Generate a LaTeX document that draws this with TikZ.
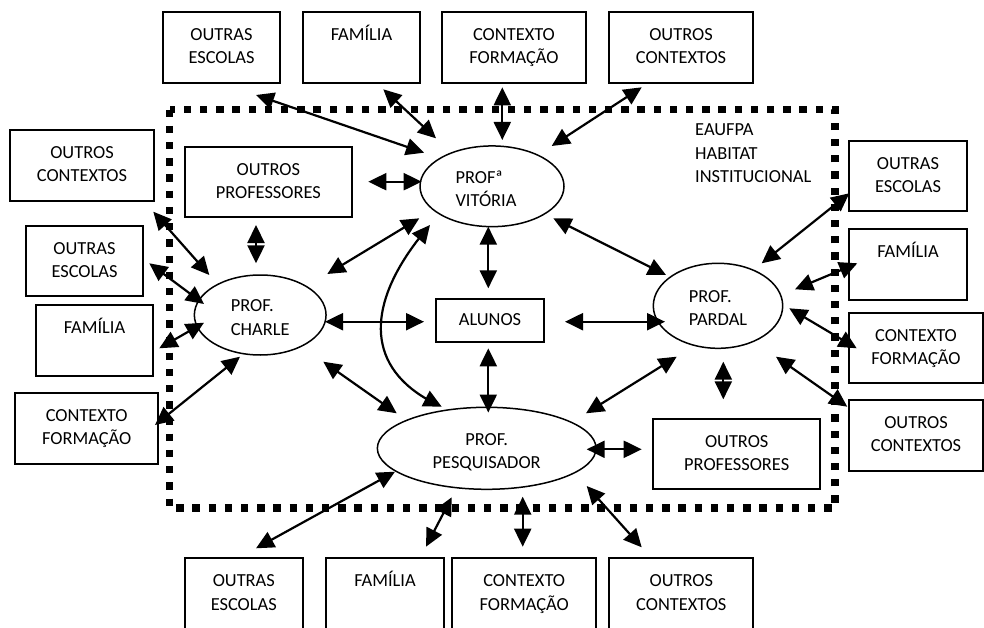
\documentclass[tikz,border=0pt]{standalone}
\usepackage{fontspec}
\setmainfont{Carlito}
\usetikzlibrary{shapes.geometric,arrows.meta,bending}

\newcommand\txtfont{\fontsize{18.4}{23.3}\selectfont}
% taller strut for the ellipse labels, which sit a little low
\newcommand\ellstrut{\rule[-3pt]{0pt}{23pt}}

\tikzset{
  box/.style={draw, line width=1.8pt, rectangle, align=center, inner sep=0pt, font=\txtfont},
  wbox/.style={box, minimum width=117pt, minimum height=71pt},
  xbox/.style={box, minimum width=144pt, minimum height=71pt},
  ell/.style={draw, ellipse, line width=1.5pt, align=left, inner sep=0pt, font=\txtfont},
  arr/.style={line width=2.2pt, {Triangle[length=18pt,width=17pt]}-{Triangle[length=18pt,width=17pt]}},
  habitat/.style={line width=7.3pt, dash pattern=on 7.3pt off 8.9pt},
}

\begin{document}
\begin{tikzpicture}[x=1pt,y=-1pt]
\useasboundingbox (0,0) rectangle (984,628);
\clip (0,0) rectangle (984,628);

% institutional habitat frame
\draw[habitat] (169.5,109.7) rectangle (835,508);
\node[font=\txtfont, align=left, anchor=west, inner sep=0pt] (habtxt) at (695,154.5)
  {EAUFPA\strut\\HABITAT\strut\\INSTITUCIONAL\strut};

% top row
\node[wbox] (t1) at (221.5,47.5) {OUTRAS\strut\\ESCOLAS\strut};
\node[wbox] (t2) at (361.5,47.5) {FAMÍLIA\strut\\\strut};
\node[xbox] (t3) at (514,47.5) {CONTEXTO\strut\\FORMAÇÃO\strut};
\node[xbox] (t4) at (681,47.5) {OUTROS\strut\\CONTEXTOS\strut};

% left column
\node[xbox] (l1) at (82,165.5) {OUTROS\strut\\CONTEXTOS\strut};
\node[wbox, minimum height=70pt] (l2) at (84.5,261) {OUTRAS\strut\\ESCOLAS\strut};
\node[wbox] (l3) at (94.5,340.5) {FAMÍLIA\strut\\\strut};
\node[box, minimum width=143pt, minimum height=71pt] (l4) at (86.7,428.2) {CONTEXTO\strut\\FORMAÇÃO\strut};

% right column
\node[box, minimum width=118pt, minimum height=70pt] (r1) at (908,176) {OUTRAS\strut\\ESCOLAS\strut};
\node[box, minimum width=118pt, minimum height=71pt] (r2) at (908,264.7) {FAMÍLIA\strut\\\strut};
\node[box, minimum width=134pt, minimum height=70pt] (r3) at (916,348.3) {CONTEXTO\strut\\FORMAÇÃO\strut};
\node[box, minimum width=134pt, minimum height=71pt] (r4) at (916,435.3) {OUTROS\strut\\CONTEXTOS\strut};

% bottom row
\node[box, minimum width=117.7pt, minimum height=71pt] (b1) at (243.8,593.8) {OUTRAS\strut\\ESCOLAS\strut};
\node[box, minimum width=118pt, minimum height=71pt] (b2) at (385,593.8) {FAMÍLIA\strut\\\strut};
\node[xbox] (b3) at (524.2,593.8) {CONTEXTO\strut\\FORMAÇÃO\strut};
\node[xbox] (b4) at (681.3,593.8) {OUTROS\strut\\CONTEXTOS\strut};

% inside the habitat
\node[box, minimum width=166.7pt, minimum height=70.6pt] (op1) at (268.3,182) {OUTROS\strut\\PROFESSORES\strut};
\node[box, minimum width=108pt, minimum height=43pt] (alunos) at (490,320.8) {ALUNOS\strut};
\node[box, minimum width=166.7pt, minimum height=70pt] (op2) at (736.7,454.3) {OUTROS\strut\\PROFESSORES\strut};

\node[ell, minimum width=144pt, minimum height=80.7pt] (vit) at (492,186.3) {PROFª\ellstrut\\VITÓRIA\ellstrut\hspace*{12pt}};
\node[ell, minimum width=131.7pt, minimum height=80pt] (charle) at (260.2,315) {PROF.\ellstrut\\CHARLE\ellstrut};
\node[ell, minimum width=129.4pt, minimum height=85pt] (pardal) at (718,305.8) {PROF.\ellstrut\\PARDAL\ellstrut};
\node[ell, align=center, minimum width=218.7pt, minimum height=82pt] (pesq) at (486.7,448.3) {PROF.\ellstrut\\PESQUISADOR\ellstrut};

% connector ends
\coordinate (t1v) at (256,95);      \coordinate (vt1) at (424,152.7);
\coordinate (t2v) at (383.3,89.3);  \coordinate (vt2) at (436,138.3);
\coordinate (t3v) at (502.3,87.3);  \coordinate (vt3) at (502.3,140);
\coordinate (t4v) at (641.7,87.3);  \coordinate (vt4) at (551.7,146);
\coordinate (op1v) at (368.3,181.7); \coordinate (vop1) at (421.7,181.7);
\coordinate (op1c) at (256,225);    \coordinate (cop1) at (256,263.3);
\coordinate (cv) at (327.3,274);    \coordinate (vc) at (419.3,218.3);
\coordinate (vp) at (430,225);      \coordinate (pv) at (441.7,406.7);
\coordinate (va) at (488.3,226.7);  \coordinate (av) at (488.3,288.3);
\coordinate (ca) at (325,321.7);    \coordinate (ac) at (424,321.7);
\coordinate (ap) at (488.3,348.3);  \coordinate (pa) at (488.3,412.5);
\coordinate (apar) at (565,321.7);  \coordinate (para) at (665,321.7);
\coordinate (vpar) at (553.3,218.3); \coordinate (parv) at (666,275);
\coordinate (cp) at (323.3,361.7);  \coordinate (pc) at (396.7,413.3);
\coordinate (parp) at (676.7,356.7); \coordinate (ppar) at (586,413.3);
\coordinate (parop) at (723.3,361.7); \coordinate (oppar) at (723.3,399.3);
\coordinate (pop) at (586.7,449.3); \coordinate (opp) at (641.7,449.3);
\coordinate (parr1) at (761.7,263.3); \coordinate (r1par) at (849.3,193.3);
\coordinate (parr2) at (795,289.3);   \coordinate (r2par) at (857.3,263.3);
\coordinate (parr3) at (789.3,308.3); \coordinate (r3par) at (856.7,348.3);
\coordinate (parr4) at (776,356.7);   \coordinate (r4par) at (847.3,406.7);
\coordinate (l1c) at (153.3,211.7); \coordinate (cl1) at (209.3,275);
\coordinate (l2c) at (149.3,263.3); \coordinate (cl2) at (204,304);
\coordinate (l3c) at (159.3,348.3); \coordinate (cl3) at (204,322.7);
\coordinate (l4c) at (155,425);     \coordinate (cl4) at (240,356.7);
\coordinate (pb1) at (395,471.7);   \coordinate (b1p) at (256,548.3);
\coordinate (pb2) at (451.7,497.3); \coordinate (b2p) at (426,546.7);
\coordinate (pb3) at (522.7,496.7); \coordinate (b3p) at (522.7,546.7);
\coordinate (pb4) at (586.7,486);   \coordinate (b4p) at (641.7,547.3);

% connectors
\draw[arr] (t1v) -- (vt1);
\draw[arr] (t2v) -- (vt2);
\draw[arr] (t3v) -- (vt3);
\draw[arr] (t4v) -- (vt4);
\draw[arr] (op1v) -- (vop1);
\draw[arr] (op1c) -- (cop1);
\draw[arr] (cv) -- (vc);
\draw[arr] (vp) .. controls (365,300) and (360,370) .. (pv);
\draw[arr] (va) -- (av);
\draw[arr] (ca) -- (ac);
\draw[arr] (ap) -- (pa);
\draw[arr] (apar) -- (para);
\draw[arr] (vpar) -- (parv);
\draw[arr] (cp) -- (pc);
\draw[arr] (parp) -- (ppar);
\draw[arr] (parop) -- (oppar);
\draw[arr] (pop) -- (opp);
\draw[arr] (parr1) -- (r1par);
\draw[arr] (parr2) -- (r2par);
\draw[arr] (parr3) -- (r3par);
\draw[arr] (parr4) -- (r4par);
\draw[arr] (l1c) -- (cl1);
\draw[arr] (l2c) -- (cl2);
\draw[arr] (l3c) -- (cl3);
\draw[arr] (l4c) -- (cl4);
\draw[arr] (pb1) -- (b1p);
\draw[arr] (pb2) -- (b2p);
\draw[arr] (pb3) -- (b3p);
\draw[arr] (pb4) -- (b4p);
\end{tikzpicture}
\end{document}
